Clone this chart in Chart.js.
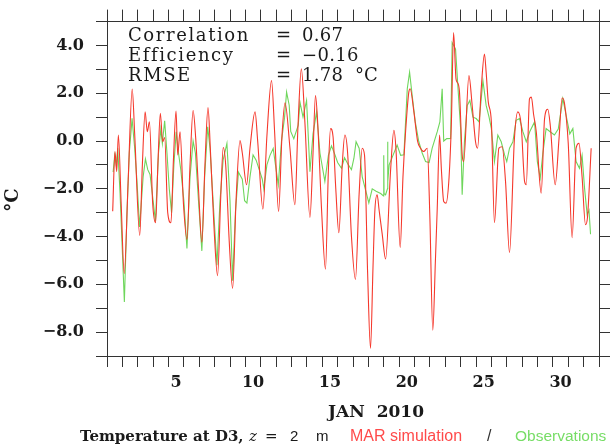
<!DOCTYPE html>
<html>
<head>
<meta charset="utf-8">
<script src="https://cdn.jsdelivr.net/npm/chart.js@4.4.1/dist/chart.umd.min.js"></script>
<style>
  html, body { margin: 0; padding: 0; background: #fff; }
  canvas { display: block; }
</style>
</head>
<body>
<canvas id="grafico" width="613" height="447"></canvas>
<script>
// days since 1 Jan 00:00, 2 m temperature at D3
const simDays = [0.37, 0.52, 0.63, 0.74, 0.92, 1.12, 1.38, 1.64, 1.8, 2.13, 2.3, 2.48, 2.62, 2.76, 2.97, 3.16, 3.32, 3.47, 3.62, 3.75, 3.95, 4.16, 4.32, 4.49, 4.6, 4.75, 4.97, 5.2, 5.4, 5.6, 5.77, 5.95, 6.17, 6.37, 6.57, 6.72, 6.95, 7.19, 7.4, 7.56, 7.72, 7.95, 8.17, 8.4, 8.65, 8.8, 9.08, 9.3, 9.63, 9.8, 10.14, 10.4, 10.7, 10.9, 11.16, 11.38, 11.58, 11.9, 12.22, 12.42, 12.64, 12.87, 13.2, 13.4, 13.56, 13.7, 13.95, 14.21, 14.4, 14.54, 14.7, 14.88, 15.08, 15.3, 15.47, 15.65, 15.9, 16.16, 16.4, 16.6, 16.75, 16.95, 17.14, 17.3, 17.42, 17.57, 17.7, 17.9, 18.12, 18.44, 18.66, 18.8, 19.07, 19.25, 19.42, 19.63, 19.72, 19.96, 20.2, 20.39, 20.6, 20.83, 21.0, 21.19, 21.36, 21.48, 21.63, 21.75, 21.9, 22.05, 22.25, 22.4, 22.54, 22.7, 22.78, 22.92, 23.1, 23.2, 23.54, 23.75, 23.97, 24.1, 24.34, 24.55, 24.66, 24.8, 25.0, 25.2, 25.49, 25.7, 25.92, 26.18, 26.5, 26.72, 26.94, 27.16, 27.27, 27.48, 27.6, 27.75, 27.92, 28.24, 28.46, 28.67, 28.83, 29.15, 29.4, 29.6, 29.75, 30.0, 30.25, 30.51, 30.7, 30.9, 31.12, 31.25, 31.49];
const simTemps = [-2.94, -0.44, -1.28, 0.25, -2.6, -5.55, -1.6, 2.18, 0.3, -3.95, -1.0, 1.22, 0.39, 0.8, -2.6, -3.42, -0.8, 1.16, -0.03, 0.15, -3.0, -3.42, -0.8, 1.26, -0.58, 0.39, -2.6, -4.12, -1.0, 1.28, 0.11, -2.0, -4.24, -1.0, 1.4, -0.3, -3.5, -5.64, -2.3, -0.27, -1.0, -4.2, -6.17, -2.4, 0.02, -0.5, -1.83, -0.3, 1.22, 0.0, -2.85, 0.2, 2.53, 0.4, -2.95, 0.2, 1.6, -0.3, -2.67, 0.6, 3.02, 0.8, -3.2, -0.5, 1.9, 0.8, -2.8, -5.37, -1.2, 0.52, 0.2, -2.0, -3.84, -1.0, 0.25, -0.5, -4.0, -5.8, -2.2, -0.3, -0.6, -5.5, -8.68, -5.3, -2.94, -2.25, -2.9, -3.9, -4.94, -1.28, 0.45, -0.4, -4.46, -1.5, 0.39, 2.05, 2.19, 1.22, 0.0, -0.3, -0.44, -0.3, -3.2, -7.92, -5.0, -2.8, 0.25, -1.2, -2.53, -2.6, -1.5, 0.8, 4.54, 2.6, 2.46, 2.1, -0.58, -0.86, 2.74, 1.5, -0.03, -0.3, 2.19, 3.64, 2.88, 1.63, 0.8, -3.42, -0.3, -0.24, -1.69, -4.67, 0.11, 1.22, 0.66, -1.69, -1.83, 1.77, 1.84, 1.1, 0.39, -2.18, 0.94, 1.33, 0.66, -1.83, 0.1, 1.8, 1.6, -0.1, -4.05, -0.3, -0.1, -1.5, -3.5, -3.2, -0.3];

const obsDays = [0.4, 0.5, 0.6, 0.7, 0.85, 1.13, 1.3, 1.45, 1.63, 1.8, 1.95, 2.12, 2.35, 2.5, 2.65, 2.8, 3.0, 3.15, 3.35, 3.5, 3.6, 3.75, 3.9, 4.05, 4.2, 4.35, 4.5, 4.65, 4.8, 5.0, 5.2, 5.4, 5.6, 5.75, 5.95, 6.17, 6.35, 6.55, 6.7, 6.9, 7.15, 7.35, 7.55, 7.8, 8.0, 8.17, 8.35, 8.55, 8.65, 8.8, 8.95, 9.1, 9.3, 9.5, 9.7, 9.9, 10.1, 10.2, 10.4, 10.6, 10.81, 11.0, 11.14, 11.35, 11.55, 11.68, 11.85, 11.95, 12.15, 12.44, 12.55, 12.75, 12.98, 13.2, 13.4, 13.63, 13.85, 14.17, 14.4, 14.6, 14.83, 15.0, 15.25, 15.45, 15.7, 15.9, 16.06, 16.2, 16.4, 16.6, 17.03, 17.25, 17.5, 17.8, 17.98, 18.0, 18.02, 18.12, 18.24, 18.25, 18.27, 18.35, 18.6, 18.87, 19.1, 19.31, 19.53, 19.68, 19.85, 20.05, 20.28, 20.5, 20.72, 20.95, 21.15, 21.48, 21.65, 21.8, 21.9, 22.1, 22.35, 22.45, 22.67, 22.85, 23.0, 23.1, 23.25, 23.43, 23.6, 23.8, 24.01, 24.2, 24.45, 24.66, 24.85, 25.0, 25.2, 25.42, 25.64, 25.86, 26.0, 26.18, 26.4, 26.61, 26.83, 27.05, 27.27, 27.5, 27.81, 27.99, 28.18, 28.35, 28.56, 28.8, 29.1, 29.35, 29.65, 29.86, 30.1, 30.3, 30.51, 30.73, 30.9, 31.06, 31.23, 31.35, 31.45];
const obsTemps = [-1.3, -0.6, -1.0, -0.3, -2.2, -6.74, -3.0, -0.5, 0.95, -0.3, -1.7, -3.6, -1.5, -0.75, -1.2, -1.4, -2.5, -3.36, -0.5, 0.5, -0.1, 0.85, -0.5, -2.0, -3.0, -1.0, 0.39, -0.5, -1.2, -2.5, -4.5, -1.5, 0.0, -0.5, -2.5, -4.6, -1.5, 0.6, -0.3, -2.5, -5.2, -2.5, -0.8, -0.1, -2.5, -5.85, -3.0, -1.3, -1.42, -1.6, -2.5, -2.6, -1.5, -0.58, -0.8, -1.2, -1.6, -2.0, -1.0, -0.6, -0.31, -1.2, -1.83, 0.0, 1.0, 2.05, 1.5, 0.4, 0.1, 0.66, 1.63, 1.0, 1.7, -1.28, 0.3, 1.22, -0.5, -1.69, -0.6, -0.2, -0.58, -0.9, -1.14, -0.7, -1.0, -1.2, -0.72, -0.03, -0.3, -1.5, -2.59, -2.0, -2.1, -2.2, -2.3, -0.6, -2.2, -2.25, -2.0, -0.03, -1.7, -1.0, -0.6, -0.17, -0.6, -0.58, 2.19, 2.88, 1.9, 0.8, -0.03, -0.5, -0.86, -0.9, -0.3, 0.39, 0.8, 2.19, 0.0, 0.1, 0.11, 4.12, 3.85, 2.0, 0.5, -2.25, 0.0, 1.49, 1.7, 1.0, 0.94, 0.8, 2.53, 1.49, 1.0, 0.52, -0.86, 0.25, -0.03, -0.58, -0.86, -0.3, -0.03, 0.87, 0.94, 0.39, -0.03, 0.4, 0.8, -0.86, -1.55, -0.5, 0.52, 0.4, 0.25, 0.5, 1.77, 1.08, 0.3, 0.52, -0.86, -1.14, -0.6, -1.97, -3.08, -2.9, -3.9];

const dayLabels = [5, 10, 15, 20, 25, 30];
const tempLabels = [-8, -6, -4, -2, 0, 2, 4];

const statNames = ["Correlation", "Efficiency", "RMSE"];
const statValues = ["0.67", "\u22120.16", "1.78"];

const ejeColor = "#333";
const fuenteEjes = { family: "DejaVu Serif", size: 16, weight: "bold" };

function aPuntos(xs, ys) {
  return xs.map((x, i) => ({ x: x, y: ys[i] }));
}

const textos = {
  id: "textos",
  afterDraw(chart) {
    const ctx = chart.ctx;
    ctx.save();
    ctx.fillStyle = "#1a1a1a";
    ctx.textBaseline = "alphabetic";

    // statistics box
    ctx.font = '18px "DejaVu Serif"';
    ctx.textAlign = "left";
    statNames.forEach((name, i) => {
      const y = 41 + i * 20;
      ctx.letterSpacing = "1.6px";
      ctx.fillText(name, 128, y);
      ctx.letterSpacing = "0px";
      ctx.fillText("=", 276, y);
      ctx.letterSpacing = "0.3px";
      ctx.fillText(statValues[i], 302, y);
    });
    ctx.letterSpacing = "0px";
    ctx.fillText("\u00B0C", 355, 81);

    // y axis title
    ctx.save();
    ctx.translate(18, 200);
    ctx.rotate(-Math.PI / 2);
    ctx.font = 'bold 18px "DejaVu Serif"';
    ctx.textAlign = "center";
    ctx.fillText("\u00B0C", 0, 0);
    ctx.restore();

    // x axis title
    ctx.font = 'bold 17px "DejaVu Serif"';
    ctx.textAlign = "center";
    ctx.fillText("JAN  2010", 376, 417);

    // bottom caption
    const yb = 441;
    ctx.textAlign = "left";
    ctx.font = 'bold 15px "DejaVu Serif"';
    ctx.fillText("Temperature at D3,", 80, yb);
    ctx.font = 'italic 15px "DejaVu Serif"';
    ctx.fillText("z", 249, yb);
    ctx.font = '15px "DejaVu Serif"';
    ctx.fillText("=", 265, yb);
    ctx.font = '15px "Liberation Sans"';
    ctx.fillText("2", 290, yb);
    ctx.fillText("m", 316, yb);
    ctx.font = '16px "Liberation Sans"';
    ctx.fillStyle = "#ff4a4a";
    ctx.fillText("MAR simulation", 350, yb);
    ctx.fillStyle = "#333";
    ctx.fillText("/", 487, yb);
    ctx.font = '15.5px "Liberation Sans"';
    ctx.fillStyle = "#77dd66";
    ctx.fillText("Observations", 515, yb);
    ctx.restore();
  },
};

const canvas = document.getElementById("grafico");

new Chart(canvas, {
  type: "line",
  data: {
    datasets: [
      {
        label: "MAR simulation",
        data: aPuntos(simDays, simTemps),
        borderColor: "#f5382c",
        borderWidth: 1.1,
        pointRadius: 0,
        cubicInterpolationMode: "monotone",
        xAxisID: "x",
        yAxisID: "y",
      },
      {
        label: "Observations",
        data: aPuntos(obsDays, obsTemps),
        borderColor: "#6fd65c",
        borderWidth: 1.1,
        pointRadius: 0,
        tension: 0,
        xAxisID: "x",
        yAxisID: "y",
      },
    ],
  },
  options: {
    responsive: false,
    animation: false,
    layout: { padding: 0 },
    plugins: {
      legend: { display: false },
      tooltip: { enabled: false },
    },
    scales: {
      x: {
        type: "linear",
        position: "bottom",
        min: 0,
        max: 32,
        afterFit: (s) => { s.height = 91; },
        ticks: {
          stepSize: 0.5,
          autoSkip: false,
          maxRotation: 0,
          padding: 6,
          color: "#1a1a1a",
          font: fuenteEjes,
          // day N is labelled in the middle of its 24 h
          callback: (v) => (dayLabels.includes(v + 0.5) ? String(v + 0.5) : ""),
        },
        grid: {
          drawOnChartArea: false,
          tickLength: 11,
          tickColor: (c) => (c.tick && Number.isInteger(c.tick.value) ? ejeColor : "rgba(0,0,0,0)"),
        },
        border: { color: ejeColor, width: 1 },
      },
      x2: {
        type: "linear",
        position: "top",
        min: 0,
        max: 32,
        afterFit: (s) => { s.height = 19; },
        ticks: { stepSize: 1, display: false },
        grid: { drawOnChartArea: false, tickLength: 12, tickColor: ejeColor },
        border: { color: ejeColor, width: 1 },
      },
      y: {
        position: "left",
        min: -9,
        max: 5,
        afterFit: (s) => { s.width = 107; },
        ticks: {
          stepSize: 1,
          autoSkip: false,
          padding: 12,
          color: "#1a1a1a",
          font: fuenteEjes,
          callback: (v) => (tempLabels.includes(v) ? v.toFixed(1).replace("-", "\u2212") : ""),
        },
        grid: { drawOnChartArea: false, tickLength: 11, tickColor: ejeColor },
        border: { color: ejeColor, width: 1 },
      },
      y2: {
        position: "right",
        min: -9,
        max: 5,
        afterFit: (s) => { s.width = 14; },
        ticks: { stepSize: 1, display: false },
        grid: { drawOnChartArea: false, tickLength: 11, tickColor: ejeColor },
        border: { color: ejeColor, width: 1 },
      },
    },
  },
  plugins: [textos],
});
</script>
</body>
</html>
